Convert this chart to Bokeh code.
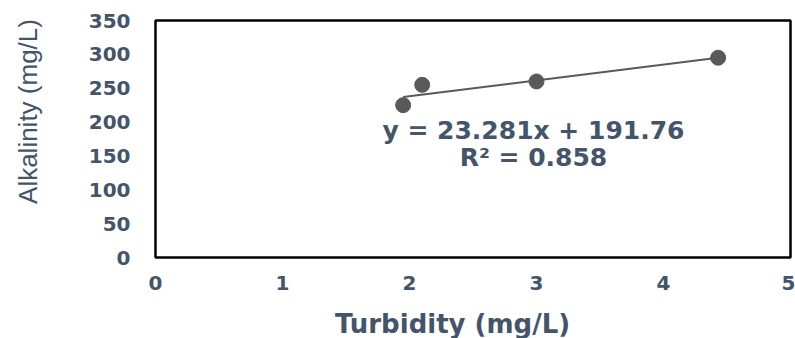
import math
from bokeh.plotting import figure
from bokeh.layouts import row, column
from bokeh.models import Range1d, Label, FixedTicker
from bokeh.embed import file_html
from bokeh.resources import INLINE

# Data
turbidity = [1.95, 2.1, 3.0, 4.43]
alkalinity = [225, 255, 260, 295]
slope = 23.281
intercept = 191.76
r_squared = 0.858
x_ticks = [0, 1, 2, 3, 4, 5]
y_ticks = [0, 50, 100, 150, 200, 250, 300, 350]
x_title = "Turbidity (mg/L)"
y_title = "Alkalinity (mg/L)"

TXT = "#44546A"
MARK = "#595959"

LEFT_W = 60
MAIN_H = 305


def blank(width, height):
    f = figure(width=width, height=height, output_backend="svg", toolbar_location=None,
               x_axis_type=None, y_axis_type=None, min_border=0,
               x_range=Range1d(0, 1), y_range=Range1d(0, 1))
    f.outline_line_color = None
    f.xgrid.visible = False
    f.ygrid.visible = False
    return f


# Y axis title panel
left = blank(LEFT_W, 338)
left.add_layout(Label(x=27, y=338 - 111, x_units="screen", y_units="screen", text=y_title,
                      angle=math.pi / 2, text_font="Liberation Sans", text_font_size="26px",
                      text_color=TXT, text_align="center", text_baseline="middle"))

# Main chart
p = figure(width=795 - LEFT_W, height=MAIN_H, output_backend="svg", toolbar_location=None,
           x_range=Range1d(0, 5), y_range=Range1d(0, 350),
           min_border_left=155 - LEFT_W, min_border_right=5, min_border_top=20,
           min_border_bottom=MAIN_H - 257)
p.background_fill_color = "white"
p.border_fill_color = "white"
p.outline_line_color = "black"
p.outline_line_width = 2.5
p.xgrid.visible = False
p.ygrid.visible = False

for ax in (p.xaxis[0], p.yaxis[0]):
    ax.axis_line_color = None
    ax.major_tick_line_color = None
    ax.minor_tick_line_color = None
    ax.major_tick_out = 0
    ax.major_tick_in = 0
    ax.major_label_text_font = "DejaVu Sans"
    ax.major_label_text_font_style = "bold"
    ax.major_label_text_font_size = "20px"
    ax.major_label_text_color = TXT

p.xaxis.ticker = FixedTicker(ticks=x_ticks)
p.yaxis.ticker = FixedTicker(ticks=y_ticks)
p.xaxis.major_label_standoff = 18
p.yaxis.major_label_standoff = 25

# Trendline
x0, x1 = min(turbidity), max(turbidity)
p.line([x0, x1], [slope * x0 + intercept, slope * x1 + intercept],
       line_color=MARK, line_width=2)

p.scatter(turbidity, alkalinity, size=15, fill_color=MARK, line_color=MARK)

p.add_layout(Label(x=2.976, y=187.5, text=f"y = {slope}x + {intercept}",
                   text_font="DejaVu Sans", text_font_style="bold", text_font_size="25px",
                   text_color=TXT, text_baseline="middle", text_align="center"))
p.add_layout(Label(x=2.976, y=147.7, text=f"R² = {r_squared}",
                   text_font="DejaVu Sans", text_font_style="bold", text_font_size="25px",
                   text_color=TXT, text_baseline="middle", text_align="center"))

# X axis title panel (its frame is aligned with the main frame, which starts at x=155)
bottom = blank(795 - LEFT_W, 338 - MAIN_H)
bottom.add_layout(Label(x=452 - 155, y=338 - 323, x_units="screen", y_units="screen",
                        text=x_title, text_font="DejaVu Sans", text_font_style="bold",
                        text_font_size="26px", text_color=TXT,
                        text_align="center", text_baseline="middle"))

layout = row(left, column(p, bottom, spacing=0), spacing=0)

open("out.html", "w").write(file_html(layout, INLINE))
